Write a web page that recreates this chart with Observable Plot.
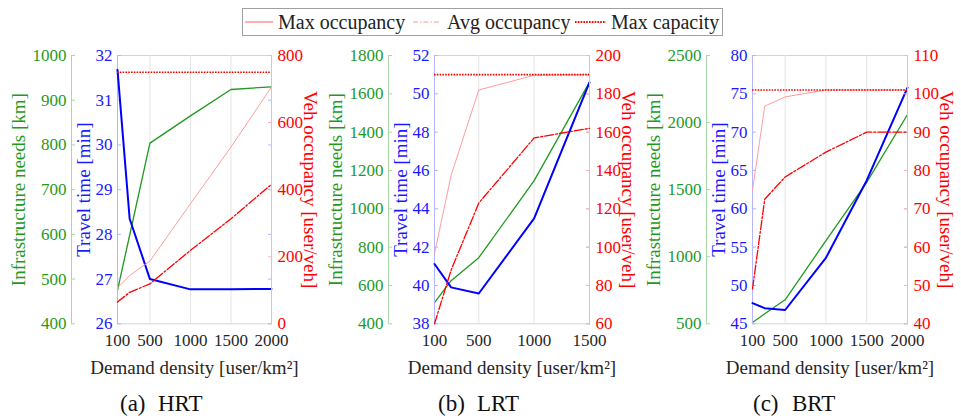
<!DOCTYPE html>
<html><head><meta charset="utf-8">
<script src="https://cdn.jsdelivr.net/npm/d3@7"></script>
<script src="https://cdn.jsdelivr.net/npm/@observablehq/plot@0.6"></script>
<style>
body{margin:0;background:#fff;}
#root{position:relative;width:961px;height:418px;overflow:hidden;font-family:'Liberation Serif','DejaVu Serif',serif;color:#222;}
.panel{position:absolute;top:0;width:320px;height:380px;}
.panel svg{position:absolute;top:0;left:0;font-family:'Liberation Serif','DejaVu Serif',serif;}
.panel svg text{font-family:'Liberation Serif','DejaVu Serif',serif;}
.lg{position:absolute;font-size:20px;line-height:20px;white-space:nowrap;color:#222;}
.cap{position:absolute;font-size:23px;line-height:23px;white-space:nowrap;color:#111;}
</style></head><body><div id="root"></div>
<script>
// ---------- data ----------
const demandHRT = [100, 250, 500, 1000, 1500, 2000];
const infraHRT  = [475, 598, 804, 865, 924, 930];
const travelHRT = [31.68, 28.35, 27.0, 26.77, 26.77, 26.78];
const maxOccHRT = [107, 144, 187, 358, 527, 706];
const avgOccHRT = [65, 94, 119, 219, 313, 416];
const maxCapHRT = 750;

const demandLRT = [100, 250, 500, 1000, 1500];
const infraLRT  = [511, 625, 745, 1147, 1661];
const travelLRT = [41.12, 39.9, 39.58, 43.5, 50.6];
const maxOccLRT = [96.6, 137.5, 182, 189.7, 190];
const avgOccLRT = [60, 88, 123, 157, 162];
const maxCapLRT = 190;

const demandBRT = [100, 250, 500, 1000, 1500, 2000];
const infraBRT  = [510, 575, 679, 1120, 1554, 2060];
const travelBRT = [47.7, 47.04, 46.8, 53.6, 63.7, 75.8];
const maxOccBRT = [74.8, 96.8, 99.2, 101, 101, 101];
const avgOccBRT = [49.1, 72.5, 78.3, 84.8, 90, 90];
const maxCapBRT = 101;

// tick labels
const xTicksHRT = [100, 500, 1000, 1500, 2000];
const xTicksLRT = [100, 500, 1000, 1500];
const xTicksBRT = [100, 500, 1000, 1500, 2000];
const infraTicksHRT = [400, 500, 600, 700, 800, 900, 1000];
const infraTicksLRT = [400, 600, 800, 1000, 1200, 1400, 1600, 1800];
const infraTicksBRT = [500, 1000, 1500, 2000, 2500];
const travelTicksHRT = [26, 27, 28, 29, 30, 31, 32];
const travelTicksLRT = [38, 40, 42, 44, 46, 48, 50, 52];
const travelTicksBRT = [45, 50, 55, 60, 65, 70, 75, 80];
const occTicksHRT = [0, 200, 400, 600, 800];
const occTicksLRT = [60, 80, 100, 120, 140, 160, 180, 200];
const occTicksBRT = [40, 50, 60, 70, 80, 90, 100, 110];

const legendLabels = ["Max occupancy", "Avg occupancy", "Max capacity"];
const captionLetters = ["(a)", "(b)", "(c)"];
const captionNames = ["HRT", "LRT", "BRT"];
const xTitle = "Demand density [user/km²]";
const infraTitle = "Infrastructure needs [km]";
const travelTitle = "Travel time [min]";
const occTitle = "Veh occupancy [user/veh]";

// ---------- styling ----------
const FONT = "Liberation Serif, DejaVu Serif, serif";
const GREEN = "#1f9a1f", LGREEN = "#a8d8a8";
const BLUE = "#0000ff", BLUET = "#1a1aff", LBLUE = "#b4b4ff";
const RED = "#ff0000", PINK = "#ff9d9d", LRED = "#ffb4b4";
const GRID = "#e4e4e4", FRAME = "#d4d4d4", DARK = "#262626";
const fmt = d => String(d);

const panels = [
  {left: 0, plotW: 154, demand: demandHRT, infra: infraHRT, travel: travelHRT, maxOcc: maxOccHRT, avgOcc: avgOccHRT, cap: maxCapHRT,
   xTicks: xTicksHRT, infraTicks: infraTicksHRT, travelTicks: travelTicksHRT, occTicks: occTicksHRT},
  {left: 317, plotW: 155, demand: demandLRT, infra: infraLRT, travel: travelLRT, maxOcc: maxOccLRT, avgOcc: avgOccLRT, cap: maxCapLRT,
   xTicks: xTicksLRT, infraTicks: infraTicksLRT, travelTicks: travelTicksLRT, occTicks: occTicksLRT},
  {left: 635, plotW: 155, demand: demandBRT, infra: infraBRT, travel: travelBRT, maxOcc: maxOccBRT, avgOcc: avgOccBRT, cap: maxCapBRT,
   xTicks: xTicksBRT, infraTicks: infraTicksBRT, travelTicks: travelTicksBRT, occTicks: occTicksBRT}
];

const W = 320, H = 380, MT = 55, MB = H - 323.3, ML = 117;
const root = document.getElementById("root");

function layer(p, yTicks, marks, xAxis) {
  const xd = [p.xTicks[0], p.xTicks[p.xTicks.length - 1]];
  return Plot.plot({
    width: W, height: H,
    marginTop: MT, marginBottom: MB, marginLeft: ML, marginRight: W - ML - p.plotW,
    x: {domain: xd, ...(xAxis ? {} : {axis: null})},
    y: {domain: [yTicks[0], yTicks[yTicks.length - 1]]},
    style: {background: "transparent", fontFamily: FONT, fontSize: "17px", overflow: "visible"},
    marks
  });
}

panels.forEach((p, k) => {
  const rows = p.demand.map((x, i) => ({x, infra: p.infra[i], travel: p.travel[i], maxOcc: p.maxOcc[i], avgOcc: p.avgOcc[i]}));
  const x0 = p.xTicks[0], x1 = p.xTicks[p.xTicks.length - 1];
  const div = document.createElement("div");
  div.className = "panel";
  div.style.left = p.left + "px";
  root.appendChild(div);

  const g = layer(p, p.infraTicks, [
    Plot.frame({stroke: FRAME}),
    Plot.gridX(p.xTicks.slice(1, -1), {stroke: GRID, strokeOpacity: 1}),
    Plot.ruleX([x0], {dx: -46, stroke: LGREEN}),
    Plot.axisY(p.infraTicks, {anchor: "left", dx: -46, tickSize: -4, tickPadding: 9, tickFormat: fmt, stroke: LGREEN, fill: GREEN, fontSize: 17, label: null}),
    Plot.line(rows, {x: "x", y: "infra", stroke: GREEN, strokeWidth: 1.3}),
    Plot.text([infraTitle], {frameAnchor: "left", dx: -99, rotate: -90, textAnchor: "middle", lineAnchor: "middle", fill: GREEN, fontSize: 19})
  ], false);

  const b = layer(p, p.travelTicks, [
    Plot.ruleX([x0], {stroke: LBLUE}),
    Plot.axisY(p.travelTicks, {anchor: "left", tickSize: -4, tickPadding: 9, tickFormat: fmt, stroke: LBLUE, fill: BLUET, fontSize: 17, label: null}),
    Plot.axisY(p.travelTicks, {anchor: "right", tickSize: -4, tickFormat: () => "", stroke: LBLUE, label: null}),
    Plot.line(rows, {x: "x", y: "travel", stroke: BLUE, strokeWidth: 2}),
    Plot.axisX(p.xTicks, {tickSize: 0, tickPadding: 10, tickFormat: fmt, fill: DARK, fontSize: 17, label: null}),
    Plot.text([xTitle], {frameAnchor: "bottom", dy: 50, textAnchor: "middle", lineAnchor: "bottom", fill: DARK, fontSize: 19}),
    Plot.text([travelTitle], {frameAnchor: "left", dx: -34, rotate: -90, textAnchor: "middle", lineAnchor: "middle", fill: BLUET, fontSize: 19})
  ], true);

  const r = layer(p, p.occTicks, [
    Plot.ruleX([x1], {stroke: LRED}),
    Plot.axisY(p.occTicks, {anchor: "right", tickSize: -4, tickPadding: 10, tickFormat: fmt, stroke: LRED, fill: RED, fontSize: 17, label: null}),
    Plot.line(rows, {x: "x", y: "maxOcc", stroke: PINK, strokeWidth: 1}),
    Plot.line(rows, {x: "x", y: "avgOcc", stroke: RED, strokeWidth: 1.3, strokeDasharray: "9,2,2,2"}),
    Plot.ruleY([p.cap], {stroke: RED, strokeWidth: 1.6, strokeDasharray: "1.6,1.2"}),
    Plot.text([occTitle], {frameAnchor: "right", dx: 39, rotate: 90, textAnchor: "middle", lineAnchor: "middle", fill: RED, fontSize: 19})
  ], false);

  div.appendChild(g); div.appendChild(b); div.appendChild(r);
});

// legend
const lg = document.createElement("div");
lg.style.cssText = "position:absolute;left:242px;top:8px;width:481px;height:28px;border:1px solid #a0a0a0;box-sizing:border-box;background:#fff;";
root.appendChild(lg);
const swX = [245, 413, 575], swW = [28, 28, 31], txX = [278, 447, 611];
const swStyle = [
  {stroke: "#ff7a7a", w: 1.2, dash: null},
  {stroke: "#ff9a9a", w: 1.2, dash: "5,2,1.5,2"},
  {stroke: RED, w: 1.8, dash: "1.6,1.2"}
];
legendLabels.forEach((lab, i) => {
  const ns = "http://www.w3.org/2000/svg";
  const s = document.createElementNS(ns, "svg");
  s.setAttribute("width", swW[i]); s.setAttribute("height", 6);
  s.style.cssText = `position:absolute;left:${swX[i]}px;top:${21.7 - 3}px;`;
  const l = document.createElementNS(ns, "line");
  l.setAttribute("x1", 0); l.setAttribute("x2", swW[i]); l.setAttribute("y1", 3); l.setAttribute("y2", 3);
  l.setAttribute("stroke", swStyle[i].stroke); l.setAttribute("stroke-width", swStyle[i].w);
  if (swStyle[i].dash) l.setAttribute("stroke-dasharray", swStyle[i].dash);
  s.appendChild(l); root.appendChild(s);
  const t = document.createElement("div");
  t.className = "lg"; t.textContent = lab;
  t.style.left = txX[i] + "px"; t.style.top = (28.3 - 16.8) + "px";
  root.appendChild(t);
});

// captions
const capL = [120, 438, 753], capN = [158, 477, 792];
captionLetters.forEach((c, i) => {
  const a = document.createElement("div"); a.className = "cap"; a.textContent = c;
  a.style.left = capL[i] + "px"; a.style.top = (411 - 19.3) + "px"; root.appendChild(a);
  const n = document.createElement("div"); n.className = "cap"; n.textContent = captionNames[i];
  n.style.left = capN[i] + "px"; n.style.top = (411 - 19.3) + "px"; root.appendChild(n);
});
</script></body></html>
